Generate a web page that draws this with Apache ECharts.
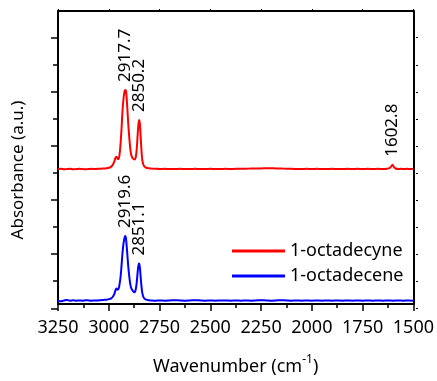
<!DOCTYPE html>
<html>
<head>
<meta charset="utf-8">
<script src="https://cdn.jsdelivr.net/npm/echarts@6/dist/echarts.min.js"></script>
<style>
  html, body { margin: 0; padding: 0; background: #fff; }
  #charts { width: 437px; height: 381px; }
</style>
</head>
<body>
<div id="charts"></div>
<script>
// spectra, [wavenumber, absorbance] (octadecyne is offset by 5)
var redSpectrum = [
    [3250,5.00],[3235,5.01],[3220,4.99],[3205,5.00],[3190,5.01],[3175,4.99],[3160,5.00],[3145,5.01],
    [3130,5.00],[3115,4.99],[3100,5.00],[3085,5.01],[3070,5.00],[3055,5.01],[3040,5.01],[3025,5.02],
    [3010,5.03],[2998,5.05],[2988,5.09],[2980,5.16],[2973,5.28],[2967,5.42],[2962,5.47],[2957,5.40],
    [2952,5.38],[2947,5.55],[2942,5.95],[2937,6.55],[2932,7.25],[2927,7.70],[2922,7.95],[2918,8.00],
    [2914,7.90],[2909,7.35],[2904,6.70],[2898,6.10],[2893,5.70],[2888,5.50],[2881,5.40],[2874,5.36],
    [2868,5.42],[2863,5.70],[2859,6.15],[2855,6.60],[2851,6.86],[2847,6.72],[2843,6.25],[2839,5.70],
    [2835,5.35],[2830,5.17],[2824,5.09],[2816,5.05],[2805,5.03],[2790,5.02],[2770,5.01],[2750,5.00],
    [2725,5.01],[2700,5.00],[2675,5.00],[2650,5.01],[2625,5.00],[2600,5.00],[2575,5.01],[2550,5.00],
    [2525,5.00],[2500,5.01],[2475,5.00],[2450,5.00],[2425,5.01],[2400,5.00],[2375,5.01],[2350,5.01],
    [2325,5.01],[2300,5.02],[2275,5.02],[2250,5.02],[2225,5.03],[2200,5.03],[2175,5.02],[2150,5.02],
    [2125,5.01],[2100,5.01],[2075,5.00],[2050,5.00],[2025,5.01],[2000,5.00],[1975,5.01],[1950,5.00],
    [1925,5.00],[1900,5.01],[1875,5.00],[1850,5.00],[1825,5.01],[1800,5.00],[1775,5.01],[1750,5.00],
    [1725,5.01],[1700,5.00],[1675,5.01],[1650,5.00],[1630,5.01],[1618,5.03],[1610,5.09],[1603,5.16],
    [1596,5.08],[1588,5.02],[1575,5.00],[1560,5.01],[1545,5.00],[1530,5.01],[1515,5.00],[1500,5.01]
];
var blueSpectrum = [
    [3250,0.00],[3235,-0.02],[3220,0.01],[3205,0.03],[3190,0.00],[3175,0.02],[3160,0.00],[3145,0.01],
    [3130,0.00],[3115,0.02],[3100,0.01],[3085,0.00],[3070,0.01],[3055,0.01],[3040,0.02],[3025,0.03],
    [3010,0.04],[2998,0.06],[2988,0.09],[2980,0.15],[2973,0.25],[2967,0.40],[2962,0.46],[2957,0.42],
    [2952,0.45],[2947,0.62],[2942,0.90],[2937,1.35],[2932,1.85],[2927,2.20],[2922,2.40],[2919,2.46],
    [2915,2.35],[2910,1.90],[2904,1.30],[2898,0.85],[2893,0.58],[2888,0.45],[2881,0.37],[2874,0.32],
    [2868,0.40],[2863,0.65],[2859,0.98],[2855,1.28],[2851,1.41],[2847,1.28],[2843,0.90],[2839,0.55],
    [2835,0.30],[2830,0.15],[2824,0.08],[2816,0.04],[2805,0.02],[2790,0.01],[2770,0.00],[2750,0.01],
    [2725,0.00],[2700,0.01],[2675,0.02],[2650,0.01],[2625,0.00],[2600,0.01],[2575,0.02],[2550,0.01],
    [2525,0.00],[2500,0.01],[2475,0.00],[2450,0.01],[2425,0.01],[2400,0.00],[2375,0.01],[2350,0.00],
    [2325,0.01],[2300,0.00],[2275,0.01],[2250,0.02],[2225,0.01],[2200,0.00],[2175,0.01],[2150,0.02],
    [2125,0.01],[2100,0.00],[2075,0.01],[2050,0.00],[2025,0.01],[2000,0.00],[1975,0.01],[1950,0.00],
    [1925,0.01],[1900,0.00],[1875,0.01],[1850,0.00],[1825,0.01],[1800,0.00],[1775,0.01],[1750,0.00],
    [1725,0.01],[1700,0.00],[1675,0.01],[1650,0.00],[1625,0.01],[1600,0.00],[1575,0.01],[1550,0.00],
    [1525,0.01],[1500,0.00]
];

// peak labels: [wavenumber, absorbance, text]
var redPeaks = [[2917.7, 8.00, '2917.7'], [2850.2, 6.86, '2850.2'], [1602.8, 5.16, '1602.8']];
var bluePeaks = [[2919.6, 2.46, '2919.6'], [2851.1, 1.41, '2851.1']];

var seriesNames = ['1-octadecyne', '1-octadecene'];
var xTicks = [1500, 3250, 250];

var FONT = 'Noto Sans';
var chart = echarts.init(document.getElementById('charts'));

function peakMarks(peaks) {
    var out = [];
    for (var i = 0; i < peaks.length; i++) {
        out.push({ name: peaks[i][2], coord: [peaks[i][0], peaks[i][1]] });
    }
    return out;
}

function lineSeries(name, data, color, peaks) {
    return {
        name: name,
        type: 'line',
        xAxisIndex: 0,
        yAxisIndex: 0,
        data: data,
        symbol: 'none',
        smooth: 0.3,
        lineStyle: { color: color, width: 2 },
        itemStyle: { color: color },
        markPoint: {
            symbol: 'circle',
            symbolSize: 0,
            data: peakMarks(peaks),
            label: {
                show: true,
                position: 'top',
                distance: 8,
                rotate: 90,
                align: 'left',
                verticalAlign: 'middle',
                formatter: function (p) { return p.name; },
                fontFamily: FONT,
                fontSize: 17,
                color: '#000'
            }
        }
    };
}

var option = {
    animation: false,
    grid: [
        { left: 58, right: 21, top: 11, bottom: 69 },
        // grid only used to place the left/right ticks
        { left: 58, right: 21, top: 37.7, bottom: 72.7 }
    ],
    legend: {
        orient: 'vertical',
        left: 227,
        top: 237,
        itemWidth: 53,
        itemHeight: 3,
        itemGap: 7,
        icon: 'rect',
        data: seriesNames,
        textStyle: { fontFamily: FONT, fontSize: 18, color: '#000', lineHeight: 18 }
    },
    xAxis: [
        {
            gridIndex: 0,
            type: 'value',
            inverse: true,
            min: xTicks[0],
            max: xTicks[1],
            interval: xTicks[2],
            position: 'bottom',
            name: '{a|Wavenumber (cm}{s|-1}{a|)}',
            nameLocation: 'middle',
            nameGap: 50,
            nameTextStyle: {
                rich: {
                    a: { fontFamily: FONT, fontSize: 18, color: '#000', lineHeight: 22, verticalAlign: 'bottom' },
                    s: { fontFamily: FONT, fontSize: 12, color: '#000', lineHeight: 22, verticalAlign: 'top' }
                }
            },
            axisLine: { onZero: false, lineStyle: { color: '#000', width: 2 } },
            axisTick: { length: 7, lineStyle: { color: '#000', width: 1.5 } },
            minorTick: { show: true, splitNumber: 2, length: 4, lineStyle: { color: '#000', width: 1.5 } },
            axisLabel: {
                margin: 15,
                fontFamily: FONT,
                fontSize: 18,
                color: '#000',
                formatter: function (v) { return String(v); }
            },
            splitLine: { show: false }
        },
        {
            gridIndex: 0,
            type: 'value',
            inverse: true,
            min: xTicks[0],
            max: xTicks[1],
            interval: xTicks[2],
            position: 'top',
            axisLine: { onZero: false, lineStyle: { color: '#000', width: 2 } },
            axisTick: { length: 2, lineStyle: { color: '#000', width: 1 } },
            axisLabel: { show: false },
            splitLine: { show: false }
        },
        {
            gridIndex: 1,
            type: 'value',
            show: false,
            min: 0,
            max: 1
        }
    ],
    yAxis: [
        {
            gridIndex: 0,
            type: 'value',
            min: -0.125,
            max: 11,
            position: 'left',
            axisLine: { onZero: false, lineStyle: { color: '#000', width: 2 } },
            axisTick: { show: false },
            axisLabel: { show: false },
            splitLine: { show: false }
        },
        {
            gridIndex: 0,
            type: 'value',
            min: -0.125,
            max: 11,
            position: 'right',
            axisLine: { onZero: false, lineStyle: { color: '#000', width: 2 } },
            axisTick: { show: false },
            axisLabel: { show: false },
            splitLine: { show: false }
        },
        {
            gridIndex: 1,
            type: 'value',
            min: 0,
            max: 10,
            interval: 2,
            position: 'left',
            axisLine: { show: false },
            axisTick: { length: 7, lineStyle: { color: '#000', width: 1.5 } },
            minorTick: { show: true, splitNumber: 2, length: 5, lineStyle: { color: '#000', width: 1.5 } },
            axisLabel: { show: false },
            splitLine: { show: false }
        },
        {
            gridIndex: 1,
            type: 'value',
            min: 0,
            max: 10,
            interval: 2,
            position: 'right',
            axisLine: { show: false },
            axisTick: { length: 2, lineStyle: { color: '#000', width: 1 } },
            minorTick: { show: true, splitNumber: 2, length: 2, lineStyle: { color: '#000', width: 1 } },
            axisLabel: { show: false },
            splitLine: { show: false }
        }
    ],
    graphic: [
        {
            type: 'text',
            x: 18,
            y: 170,
            rotation: Math.PI / 2,
            style: {
                text: 'Absorbance (a.u.)',
                fontFamily: FONT,
                fontSize: 17,
                fill: '#000',
                align: 'center',
                verticalAlign: 'middle'
            }
        }
    ],
    series: [
        lineSeries(seriesNames[0], redSpectrum, '#ff0000', redPeaks),
        lineSeries(seriesNames[1], blueSpectrum, '#0000ff', bluePeaks)
    ]
};

chart.setOption(option);
</script>
</body>
</html>
